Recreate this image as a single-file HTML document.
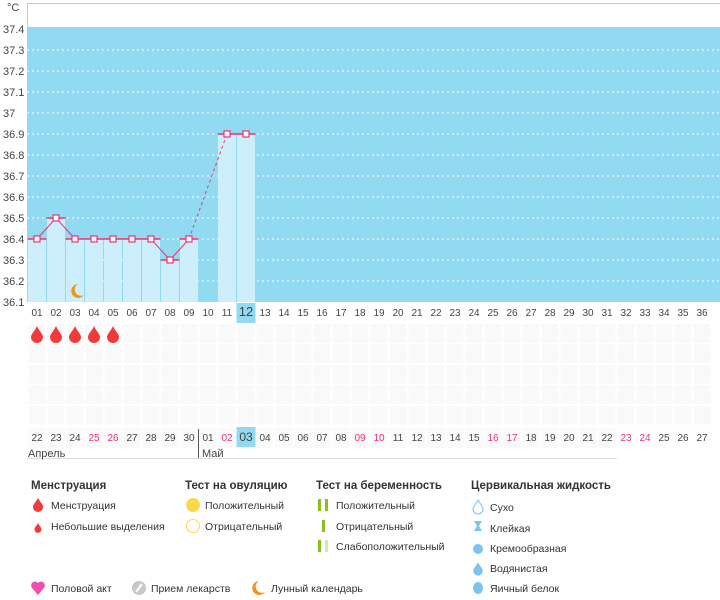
<!DOCTYPE html>
<html><head><meta charset="utf-8"><style>
body{margin:0;background:#fff;width:720px;height:595px;overflow:hidden;font-family:"Liberation Sans",sans-serif}
svg text{font-family:"Liberation Sans",sans-serif}
</style></head><body>
<svg id="c" width="720" height="595" xmlns="http://www.w3.org/2000/svg"></svg>
<script>
const days=["01","02","03","04","05","06","07","08","09","10","11","12","13","14","15","16","17","18","19","20","21","22","23","24","25","26","27","28","29","30","31","32","33","34","35","36"];
const temps=[36.4,36.5,36.4,36.4,36.4,36.4,36.4,36.3,36.4,null,36.9,36.9];
const yTicks=[36.1,36.2,36.3,36.4,36.5,36.6,36.7,36.8,36.9,37,37.1,37.2,37.3,37.4];
const dates=["22","23","24","25","26","27","28","29","30","01","02","03","04","05","06","07","08","09","10","11","12","13","14","15","16","17","18","19","20","21","22","23","24","25","26","27"];
const redDates=[3,4,10,17,18,24,25,31,32];
const menses=[0,1,2,3,4];
const NS="http://www.w3.org/2000/svg";
const svg=document.getElementById('c');
function el(t,a,p){const e=document.createElementNS(NS,t);for(const k in a)e.setAttribute(k,a[k]);(p||svg).appendChild(e);return e;}
const X0=27.5,CW=19;
const xc=i=>X0+CW*i+CW/2;
const y=v=>302-(v-36.1)*210;
let e=el('rect',{x:27,y:27,width:693,height:275,fill:'#92d9f2'});

el('line',{x1:27.5,y1:3,x2:27.5,y2:302,stroke:'#92d9f2'});
el('line',{x1:27,y1:3.5,x2:720,y2:3.5,stroke:'#92d9f2'});
yTicks.forEach(v=>{
 if(v>36.1&&v<37.35)el('line',{x1:27,x2:720,y1:y(v),y2:y(v),stroke:'#fff','stroke-dasharray':'2,3','stroke-width':1});
 const t=el('text',{x:3,y:y(v)+4,'font-size':11,fill:'#444'});t.textContent=v;
 
});
e=el('text',{x:7,y:11,'font-size':11,fill:'#444'});e.textContent='°C';

temps.forEach((v,i)=>{if(v==null)return;
 const b=el('rect',{x:X0+CW*i+0.5,y:y(v),width:CW-1,height:302-y(v),fill:'#cdeefb'});
 
 el('line',{x1:X0+CW*i,x2:X0+CW*(i+1),y1:y(v),y2:y(v),stroke:'#f0336a','stroke-width':1.5});
});
let prev=null;
temps.forEach((v,i)=>{if(v==null)return;
 if(prev){const l=el('line',{x1:xc(prev[0]),y1:y(prev[1]),x2:xc(i),y2:y(v),stroke:'#f0336a','stroke-width':1});
  if(i-prev[0]>1)l.setAttribute('stroke-dasharray','3,3');}
 prev=[i,v];});
temps.forEach((v,i)=>{if(v==null)return;
 const m=el('rect',{x:xc(i)-3,y:y(v)-3,width:6,height:6,fill:'#fff',stroke:'#f0336a','stroke-width':1.2});
 });
e=el('path',{d:'M78 284 a7 7 0 1 0 6 11 a6 6 0 0 1 -6 -11z',fill:'#f2941c'});

el('rect',{x:X0+CW*11,y:303,width:CW,height:20,fill:'#92d9f2'});
days.forEach((d,i)=>{const t=el('text',{x:xc(i),y:316,'font-size':i==11?13:10,'text-anchor':'middle',fill:'#444'});t.textContent=d;
 });
for(let r=0;r<5;r++)for(let i=0;i<36;i++){
 const c=el('rect',{x:X0+CW*i+1,y:324+r*20.5,width:CW-2,height:18.5,fill:'#f9f9fa'});
 }
menses.forEach(i=>{const cx=xc(i);
 const p=el('path',{d:`M${cx} 326 C${cx+2} 331 ${cx+6} 334 ${cx+6} 337 A6 6 0 0 1 ${cx-6} 337 C${cx-6} 334 ${cx-2} 331 ${cx} 326z`,fill:'#f23a3a'});
 });
for(let i=0;i<31;i++)el('rect',{x:X0+CW*i+1,y:428,width:CW-2,height:20,fill:'#fafafa'});
el('rect',{x:X0+CW*11,y:427,width:CW,height:20,fill:'#92d9f2'});
dates.forEach((d,i)=>{const t=el('text',{x:xc(i),y:441,'font-size':i==11?12:10,'text-anchor':'middle',fill:redDates.includes(i)?'#f0336a':'#444'});t.textContent=d;
 });
el('line',{x1:198.5,y1:429,x2:198.5,y2:458,stroke:'#555'});
el('line',{x1:27,y1:458.5,x2:617,y2:458.5,stroke:'#ddd'});
e=el('text',{x:28,y:457,'font-size':11,fill:'#444'});e.textContent='Апрель';
e=el('text',{x:202,y:457,'font-size':11,fill:'#444'});e.textContent='Май';
function txt(x,yy,s,bold,name){const t=el('text',{x:x,y:yy,'font-size':bold?11.5:10.5,'font-weight':bold?'bold':'normal',fill:'#333'});t.textContent=s;}
txt(31,489,'Менструация',1,'legend-title-menstruation');
txt(185,489,'Тест на овуляцию',1,'legend-title-ovulation');
txt(316,489,'Тест на беременность',1,'legend-title-pregnancy');
txt(471,489,'Цервикальная жидкость',1,'legend-title-cervical');
function drop(cx,cy,s,col){el('path',{d:`M${cx} ${cy-7*s} C${cx+2*s} ${cy-3*s} ${cx+5*s} ${cy-1*s} ${cx+5*s} ${cy+2*s} A${5*s} ${5*s} 0 0 1 ${cx-5*s} ${cy+2*s} C${cx-5*s} ${cy-1*s} ${cx-2*s} ${cy-3*s} ${cx} ${cy-7*s}z`,fill:col});}
drop(38,505,1,'#f23a3a');txt(51,509,'Менструация',0,'legend-menstruation');
drop(38,528,0.7,'#f23a3a');txt(51,530,'Небольшие выделения',0,'legend-spotting');
el('circle',{cx:193,cy:505,r:7,fill:'#fcd94a'});txt(205,509,'Положительный',0,'legend-ovulation-positive');
el('circle',{cx:193,cy:526,r:6.5,fill:'#fff',stroke:'#fcd94a'});txt(205,530,'Отрицательный',0,'legend-ovulation-negative');
el('rect',{x:318,y:499,width:3,height:12,fill:'#8cbf1e'});el('rect',{x:325,y:499,width:3,height:12,fill:'#8cbf1e'});txt(336,509,'Положительный',0,'legend-pregnancy-positive');
el('rect',{x:322,y:520,width:3,height:12,fill:'#8cbf1e'});txt(336,530,'Отрицательный',0,'legend-pregnancy-negative');
el('rect',{x:318,y:540,width:3,height:12,fill:'#8cbf1e'});el('rect',{x:325,y:540,width:3,height:12,fill:'#d6e8b0'});txt(336,550,'Слабоположительный',0,'legend-pregnancy-weak');
el('path',{d:'M478 500 C480 504 483 506 483 509 A5 5 0 0 1 473 509 C473 506 476 504 478 500z',fill:'#fff',stroke:'#7cc4ef'});txt(490,511,'Сухо',0,'legend-dry');
el('path',{d:'M474 521 h8 l-3 5 l3 5 h-8 l3 -5z',fill:'#7cc4ef'});txt(490,532,'Клейкая',0,'legend-sticky');
el('circle',{cx:478,cy:549,r:5,fill:'#7cc4ef'});txt(490,552,'Кремообразная',0,'legend-creamy');
drop(478,569,0.95,'#7cc4ef');txt(490,572,'Водянистая',0,'legend-watery');
el('ellipse',{cx:478,cy:588,rx:5,ry:6,fill:'#7cc4ef'});txt(490,592,'Яичный белок',0,'legend-egg-white');
el('path',{d:'M38 595 L32 588 A3.5 3.5 0 0 1 38 583 A3.5 3.5 0 0 1 44 588z',fill:'#f04fae'});txt(51,592,'Половой акт',0,'legend-intercourse');
el('circle',{cx:139,cy:588,r:7,fill:'#c8c8c8'});el('line',{x1:136,y1:592,x2:142,y2:584,stroke:'#fff','stroke-width':2});txt(151,592,'Прием лекарств',0,'legend-medication');
el('path',{d:'M259 581 a7 7 0 1 0 6 11 a6 6 0 0 1 -6 -11z',fill:'#f2941c'});txt(271,592,'Лунный календарь',0,'legend-lunar');
</script>
</body></html>
